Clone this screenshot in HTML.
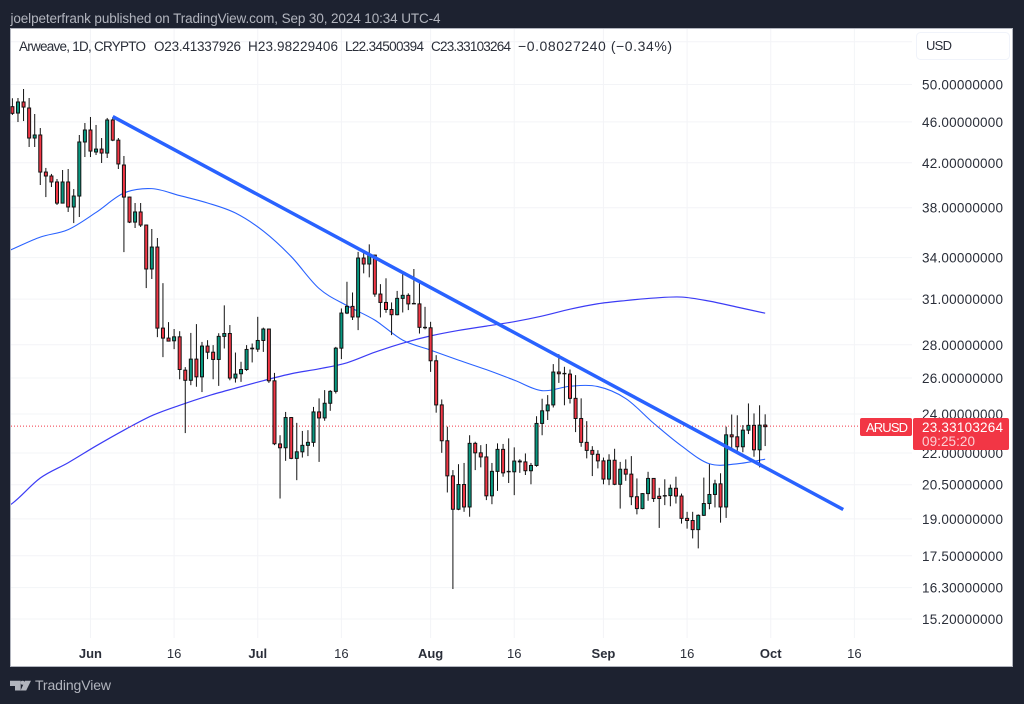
<!DOCTYPE html>
<html lang="en">
<head>
<meta charset="utf-8">
<title>Arweave / USD chart</title>
<style>
html,body{margin:0;padding:0;background:#1d2230;width:1024px;height:704px;overflow:hidden}
svg{display:block;font-family:"Liberation Sans",sans-serif}
</style>
</head>
<body>
<svg id="chart" width="1024" height="704" viewBox="0 0 1024 704" xmlns="http://www.w3.org/2000/svg">
  <rect x="0" y="0" width="1024" height="704" fill="#1d2230"/>
  <text x="10.5" y="23" font-size="13.5" fill="#b2b5be" textLength="430">joelpeterfrank published on TradingView.com, Sep 30, 2024 10:34 UTC-4</text>
  <rect x="10.5" y="28.5" width="1002" height="638" fill="#ffffff" stroke="#b2b5be" stroke-width="1"/>
  <g id="grid"></g>
  <g id="averages"></g>
  <line id="lastPriceLine" stroke="#f23645" stroke-width="1" stroke-dasharray="1 2"/>
  <g id="candles"></g>
  <line id="trendLine" stroke="#2962ff" stroke-width="3.5"/>
  <g font-size="13.5" fill="#2a2e39">
    <text x="19" y="51" textLength="127">Arweave, 1D, CRYPTO</text>
    <text x="154" y="51" textLength="87">O23.41337926</text>
    <text x="248" y="51" textLength="90">H23.98229406</text>
    <text x="345" y="51" textLength="79">L22.34500394</text>
    <text x="431" y="51" textLength="80">C23.33103264</text>
    <text x="518" y="51" font-size="14" textLength="154">−0.08027240 (−0.34%)</text>
  </g>
  <g id="priceAxis"></g>
  <g id="timeAxis"></g>
  <g>
    <rect x="916.5" y="32.5" width="93" height="27" rx="4" fill="#ffffff" stroke="#f0f3fa"/>
    <text x="926" y="50" font-size="13" fill="#2a2e39" textLength="26">USD</text>
  </g>
  <g>
    <rect x="860" y="418" width="52" height="18" rx="2" fill="#f23645"/>
    <text x="866" y="432" font-size="13" fill="#ffffff" textLength="42">ARUSD</text>
  </g>
  <g>
    <rect x="913" y="418" width="96" height="32" rx="2" fill="#f23645"/>
    <text x="922" y="432" font-size="13.5" fill="#ffffff" textLength="81">23.33103264</text>
    <text x="922" y="446" font-size="13.5" fill="#fbd0d5" textLength="53">09:25:20</text>
  </g>
  <g>
    <path d="M10 680.7H20.7V690.5H15V686H10Z M25 680.7H31L26.2 690.5H20.6Z" fill="#b2b5be"/>
    <circle cx="22.6" cy="682.8" r="2" fill="#b2b5be"/>
    <text x="35" y="690" font-size="14" fill="#b2b5be" textLength="76">TradingView</text>
  </g>
</svg>
<script>
const opens=[47.59,46.92,48.09,47.45,44.38,44.68,41.14,40.78,40.24,38.39,40.24,38.06,39.00,43.99,45.18,43.02,43.30,42.92,46.20,44.17,41.79,38.91,36.80,37.64,36.56,33.15,34.81,29.06,28.42,28.25,28.50,26.46,25.87,27.12,26.07,27.92,27.54,27.10,28.53,28.71,26.00,26.25,26.50,27.75,27.73,28.27,29.00,25.84,22.45,22.26,23.81,21.74,22.06,22.38,22.53,24.11,23.79,24.58,25.24,27.79,30.05,30.50,29.79,33.97,33.52,34.19,31.35,30.77,30.29,29.94,31.05,31.26,30.67,30.67,29.11,29.08,27.02,24.49,22.61,20.91,19.41,20.51,19.51,22.48,22.01,21.81,20.00,21.12,22.18,21.10,21.10,21.61,21.57,21.15,21.40,23.50,24.17,24.49,26.35,26.27,26.23,24.85,23.76,22.53,22.13,21.94,21.62,20.76,21.65,20.52,21.22,20.99,19.96,19.44,20.10,20.79,19.98,19.99,20.01,20.34,19.99,19.02,18.93,18.55,19.15,19.66,20.06,20.54,19.51,22.91,22.81,22.31,23.15,23.40,22.16,23.41337926];
const highs=[48.49,48.52,49.50,48.52,46.82,45.38,41.52,40.97,40.51,41.33,41.42,39.61,44.68,45.89,46.51,45.69,44.38,46.41,46.51,44.38,42.64,38.95,38.40,38.40,36.60,36.24,35.52,32.12,29.45,29.00,28.86,26.64,28.75,29.32,28.18,28.29,27.98,28.73,30.57,29.26,27.52,26.96,27.98,28.08,29.80,29.09,29.02,26.30,22.89,24.11,23.84,23.53,23.11,23.15,24.38,24.85,25.31,25.31,27.87,30.36,32.22,31.46,34.44,34.34,35.02,34.22,32.05,32.47,30.77,31.57,32.83,31.40,33.15,32.11,30.47,29.47,27.36,24.79,23.33,21.18,21.46,21.52,22.89,22.56,22.39,22.45,21.52,22.48,22.45,22.73,22.28,21.70,21.98,21.52,23.88,24.83,25.03,26.82,27.42,26.66,26.50,26.17,24.85,23.62,22.34,22.14,21.78,21.94,22.21,21.57,21.69,21.85,20.79,20.12,21.10,20.81,20.36,20.75,20.51,20.87,20.10,19.30,19.30,19.19,20.83,21.46,20.73,21.03,23.33,23.97,23.93,23.41,24.57,24.03,24.47,23.98229406];
const lows=[46.72,45.99,46.09,43.50,43.50,39.97,38.91,39.79,38.23,38.36,37.64,36.72,37.22,42.54,42.54,42.73,41.98,42.45,44.07,41.42,34.42,36.72,36.32,36.40,31.77,32.42,28.48,27.24,28.23,27.73,25.93,23.00,25.59,25.50,25.20,27.12,25.93,25.55,27.77,25.87,25.74,25.78,26.42,26.92,27.56,27.56,25.72,22.39,19.88,21.62,21.70,20.71,21.78,21.85,22.31,21.57,23.64,24.17,25.12,27.12,29.98,29.59,28.93,32.83,32.54,31.16,29.76,30.07,28.61,29.90,30.09,30.25,30.67,28.71,28.98,26.36,24.07,22.01,20.15,16.25,19.37,19.30,19.09,21.18,21.31,19.81,19.63,20.22,20.87,20.58,20.03,21.05,20.95,20.52,21.34,22.89,23.68,24.35,25.72,24.47,24.57,23.05,22.31,21.74,20.90,21.26,20.52,20.48,20.48,19.44,20.68,19.59,19.19,19.41,19.78,19.73,18.62,19.59,19.54,19.66,18.80,18.59,18.19,17.79,19.12,19.41,19.49,18.84,19.04,22.15,22.11,22.04,22.95,21.82,21.31,22.34500394];
const closes=[46.89,48.09,47.55,44.38,44.68,41.14,40.78,40.24,38.39,40.24,38.06,39.00,43.99,45.18,43.11,43.30,42.92,46.20,44.17,41.89,38.91,36.80,37.64,36.56,33.15,34.81,29.06,28.42,28.23,28.50,26.50,25.87,27.12,26.07,27.92,27.54,27.10,28.53,28.71,26.00,26.23,26.50,27.71,27.79,28.27,29.00,25.84,22.46,22.26,23.81,21.74,22.06,22.38,22.53,24.11,23.79,24.58,25.24,27.79,30.05,30.50,29.79,33.97,33.52,34.19,31.35,30.77,30.29,29.94,31.05,31.26,30.67,30.70,29.11,29.08,27.02,24.49,22.61,20.91,19.41,20.51,19.51,22.48,22.01,21.81,20.00,21.12,22.18,21.05,21.12,21.61,21.57,21.15,21.40,23.50,24.17,24.49,26.35,26.25,26.25,24.85,23.76,22.53,22.13,21.94,21.62,20.76,21.65,20.52,21.22,20.99,19.96,19.44,20.10,20.79,19.88,19.88,20.01,20.34,19.99,19.02,18.93,18.55,19.15,19.66,20.06,20.54,19.51,22.91,22.81,22.31,23.15,23.40,22.16,23.41,23.33103264];

const averageDays=[-5,0,5,10,15,20,25,30,35,40,45,50,55,60,65,70,75,80,85,90,95,100,105,110,115,120,125,130,135];
const fastAverage=[33.74,34.65,35.59,36.19,37.60,39.26,39.65,39.04,38.40,37.55,36.07,34.08,31.74,30.55,29.58,28.29,27.67,27.06,26.49,25.88,25.28,25.53,25.51,24.84,23.51,22.35,21.48,21.48,21.70];
const slowAverage=[18.95,19.67,20.81,21.53,22.35,23.15,23.91,24.47,24.98,25.42,25.85,26.25,26.54,26.90,27.54,28.10,28.56,28.91,29.19,29.48,29.85,30.31,30.68,30.90,31.07,31.14,30.86,30.45,30.04];

const trendDays=[18,149];
const trendPrices=[46.55,19.40];
const lastPrice=23.33103264;

const priceTicks=[50,46,42,38,34,31,28,26,24,22,20.5,19,17.5,16.3,15.2];
const extraGridPrices=[55];
const timeTickDays=[14,29,44,59,75,90,106,121,136,151];
const timeTickLabels=['Jun','16','Jul','16','Aug','16','Sep','16','Oct','16'];
const timeTickBold=[true,false,true,false,true,false,true,false,true,false];

const SVGNS='http://www.w3.org/2000/svg';
function xAt(day){return 12.4+5.576*day;}
function yAt(price){return 84.5+448.9*Math.log(50/price);}
function make(tag,attrs){
  const el=document.createElementNS(SVGNS,tag);
  for(const k in attrs){el.setAttribute(k,attrs[k]);}
  return el;
}

const grid=document.getElementById('grid');
priceTicks.concat(extraGridPrices).forEach(function(p){
  const line=make('line',{x1:11,x2:912,y1:yAt(p),y2:yAt(p),stroke:'#f3f4f7','stroke-width':1});
  
  
  grid.appendChild(line);
});
timeTickDays.forEach(function(d){
  const line=make('line',{x1:xAt(d),x2:xAt(d),y1:29,y2:638,stroke:'#f3f4f7','stroke-width':1});
  
  
  grid.appendChild(line);
});

function smoothPath(days,values){
  const pts=days.map(function(d,i){return [xAt(d),yAt(values[i])];});
  let d='M'+pts[0][0]+' '+pts[0][1];
  for(let i=0;i<pts.length-1;i++){
    const p0=pts[Math.max(i-1,0)],p1=pts[i],p2=pts[i+1],p3=pts[Math.min(i+2,pts.length-1)];
    d+='C'+(p1[0]+(p2[0]-p0[0])/6)+' '+(p1[1]+(p2[1]-p0[1])/6)+' '+(p2[0]-(p3[0]-p1[0])/6)+' '+(p2[1]-(p3[1]-p1[1])/6)+' '+p2[0]+' '+p2[1];
  }
  return d;
}
const defs=make('defs',{});
const clip=make('clipPath',{id:'plotClip'});
clip.appendChild(make('rect',{x:11,y:29,width:901,height:609}));
defs.appendChild(clip);
document.getElementById('chart').insertBefore(defs,document.getElementById('chart').firstChild);
const averages=document.getElementById('averages');
averages.setAttribute('clip-path','url(#plotClip)');
const fastLine=make('path',{d:smoothPath(averageDays,fastAverage),fill:'none',stroke:'#2962ff','stroke-width':1.1});


averages.appendChild(fastLine);
const slowLine=make('path',{d:smoothPath(averageDays,slowAverage),fill:'none',stroke:'#3c3cf5','stroke-width':1.2});


averages.appendChild(slowLine);

const lp=document.getElementById('lastPriceLine');
lp.setAttribute('x1',11);lp.setAttribute('x2',860);
lp.setAttribute('y1',yAt(lastPrice)-0.5);lp.setAttribute('y2',yAt(lastPrice)-0.5);

const candles=document.getElementById('candles');
opens.forEach(function(o,i){
  const c=closes[i],x=xAt(i);
  const top=yAt(Math.max(o,c)),bottom=yAt(Math.min(o,c));
  const group=make('g',{});
  
  
  const wick=make('line',{x1:x,x2:x,y1:yAt(highs[i]),y2:yAt(lows[i]),stroke:'#111111','stroke-width':1});
  
  
  group.appendChild(wick);
  const body=make('rect',{x:x-1.5,y:top,width:3,height:Math.max(bottom-top,0.4),fill:c>=o?'#089981':'#f23645',stroke:'#111111','stroke-width':1});
  
  
  group.appendChild(body);
  candles.appendChild(group);
});

const trend=document.getElementById('trendLine');
trend.setAttribute('x1',xAt(trendDays[0]));trend.setAttribute('y1',yAt(trendPrices[0]));
trend.setAttribute('x2',xAt(trendDays[1]));trend.setAttribute('y2',yAt(trendPrices[1]));

const priceAxis=document.getElementById('priceAxis');
priceTicks.forEach(function(p){
  const t=make('text',{x:922,y:yAt(p)+5,'font-size':13.5,fill:'#2a2e39',textLength:81});
  
  
  t.textContent=p.toFixed(8);
  priceAxis.appendChild(t);
});
const timeAxis=document.getElementById('timeAxis');
timeTickDays.forEach(function(d,i){
  const t=make('text',{x:xAt(d),y:658,'font-size':13,'text-anchor':'middle',fill:'#2a2e39','font-weight':timeTickBold[i]?'700':'400'});
  
  
  t.textContent=timeTickLabels[i];
  timeAxis.appendChild(t);
});
</script>
</body>
</html>
